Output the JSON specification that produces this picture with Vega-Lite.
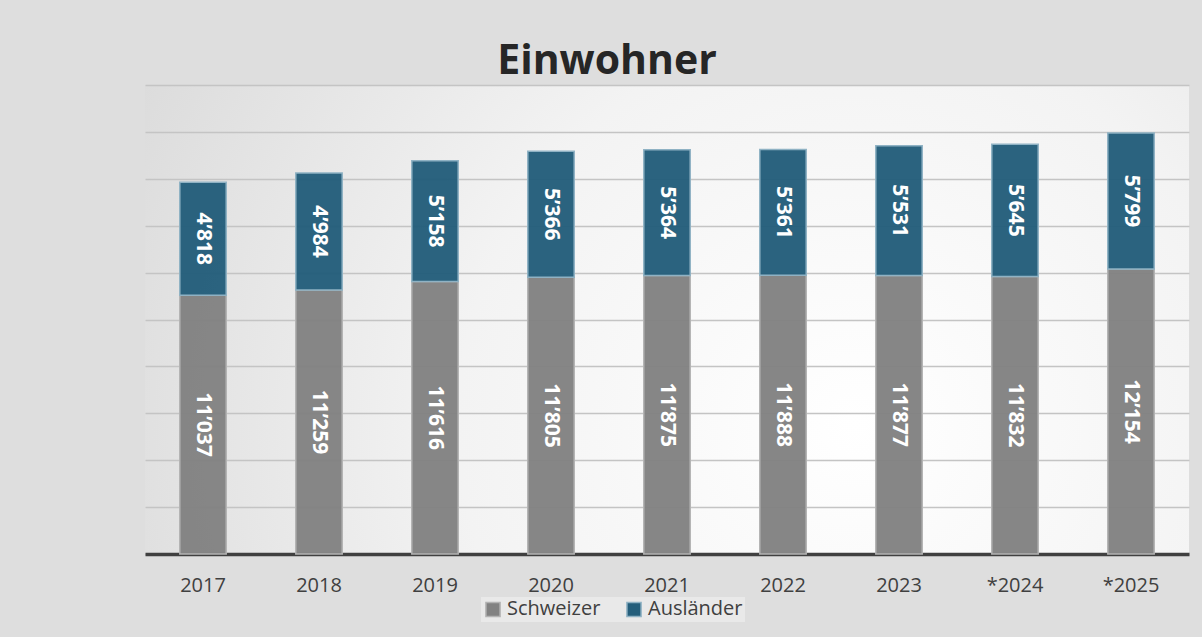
{
  "$schema": "https://vega.github.io/schema/vega-lite/v6.json",
  "width": 1044,
  "height": 469,
  "autosize": {"type": "none"},
  "padding": {"left": 145, "top": 85, "right": 13, "bottom": 83},
  "background": "#dedede",
  "config": {
    "locale": {"number": {"decimal": ".", "thousands": "’", "grouping": [3], "currency": ["", ""]}},
    "font": "Open Sans",
    "view": {
      "stroke": null,
      "fill": {
        "gradient": "radial",
        "x1": 0.68, "y1": 0.6, "r1": 0,
        "x2": 0.68, "y2": 0.6, "r2": 0.95,
        "stops": [
          {"offset": 0, "color": "#ffffff"},
          {"offset": 0.4, "color": "#f3f3f3"},
          {"offset": 1, "color": "#d0d0d0"}
        ]
      }
    }
  },
  "title": {
    "text": "Einwohner",
    "fontSize": 41,
    "fontWeight": "bold",
    "color": "#262626",
    "anchor": "middle",
    "offset": 2,
    "dx": -60
  },
  "data": {
    "values": [
      {"year": "2017", "group": "Schweizer", "value": 11037},
      {"year": "2017", "group": "Ausländer", "value": 4818},
      {"year": "2018", "group": "Schweizer", "value": 11259},
      {"year": "2018", "group": "Ausländer", "value": 4984},
      {"year": "2019", "group": "Schweizer", "value": 11616},
      {"year": "2019", "group": "Ausländer", "value": 5158},
      {"year": "2020", "group": "Schweizer", "value": 11805},
      {"year": "2020", "group": "Ausländer", "value": 5366},
      {"year": "2021", "group": "Schweizer", "value": 11875},
      {"year": "2021", "group": "Ausländer", "value": 5364},
      {"year": "2022", "group": "Schweizer", "value": 11888},
      {"year": "2022", "group": "Ausländer", "value": 5361},
      {"year": "2023", "group": "Schweizer", "value": 11877},
      {"year": "2023", "group": "Ausländer", "value": 5531},
      {"year": "*2024", "group": "Schweizer", "value": 11832},
      {"year": "*2024", "group": "Ausländer", "value": 5645},
      {"year": "*2025", "group": "Schweizer", "value": 12154},
      {"year": "*2025", "group": "Ausländer", "value": 5799}
    ]
  },
  "encoding": {
    "x": {
      "field": "year",
      "type": "nominal",
      "sort": null,
      "scale": {"paddingInner": 0.6, "paddingOuter": 0.3},
      "axis": {
        "title": null,
        "labelAngle": 0,
        "labelFontSize": 20,
        "labelColor": "#404040",
        "labelPadding": 21,
        "ticks": false,
        "domainColor": "#404040",
        "domainWidth": 3.5
      }
    },
    "y": {
      "field": "value",
      "type": "quantitative",
      "stack": "zero",
      "scale": {"domain": [0, 20000], "nice": false},
      "axis": {
        "title": null,
        "labels": false,
        "ticks": false,
        "domain": false,
        "values": [0, 2000, 4000, 6000, 8000, 10000, 12000, 14000, 16000, 18000, 20000],
        "gridColor": "#c4c4c4",
        "gridWidth": 1.5
      }
    },
    "order": {"field": "group", "sort": "descending"}
  },
  "layer": [
    {
      "mark": {"type": "bar", "strokeWidth": 1.5, "fillOpacity": 0.97},
      "encoding": {
        "color": {
          "field": "group",
          "type": "nominal",
          "scale": {"domain": ["Schweizer", "Ausländer"], "range": ["#828282", "#245e7b"]},
          "legend": {
            "title": null,
            "orient": "none",
            "legendX": 336,
            "legendY": 512,
            "direction": "horizontal",
            "labelFontSize": 20,
            "labelColor": "#404040",
            "symbolType": "square",
            "symbolSize": 200,
            "symbolStrokeWidth": 1.5,
            "columnPadding": 22,
            "labelOffset": 4,
            "fillColor": "rgba(255,255,255,0.35)",
            "padding": 2
          }
        },
        "stroke": {
          "field": "group",
          "type": "nominal",
          "scale": {"domain": ["Schweizer", "Ausländer"], "range": ["#b3b3b3", "#8fb2c4"]},
          "legend": null
        }
      }
    },
    {
      "mark": {"type": "text", "angle": 90, "align": "center", "baseline": "middle", "color": "white", "fontSize": 21, "fontWeight": "bold"},
      "encoding": {
        "y": {"field": "value", "type": "quantitative", "stack": "zero", "bandPosition": 0.5},
        "text": {"field": "value", "type": "quantitative", "format": ","}
      }
    }
  ]
}
